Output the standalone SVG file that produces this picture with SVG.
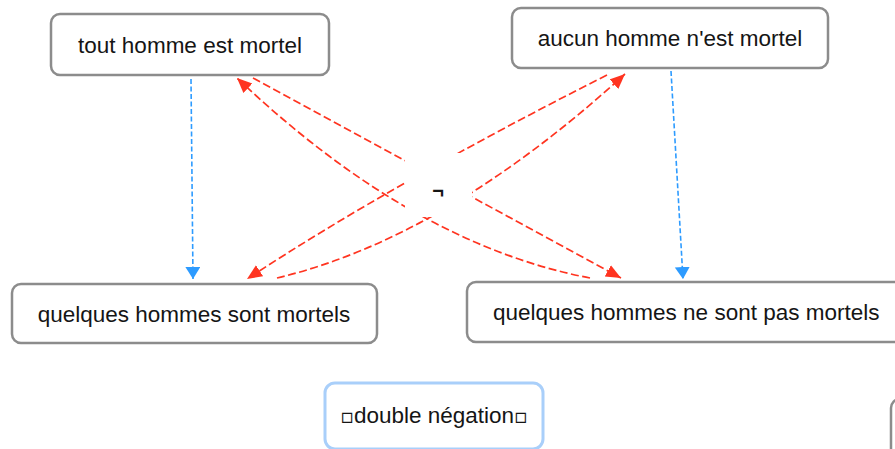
<svg xmlns="http://www.w3.org/2000/svg" width="895" height="449" viewBox="0 0 895 449">
<style>
.box{fill:#fff;stroke:#8c8c8c;stroke-width:2.5}
.sel{fill:#fff;stroke:#a9cffa;stroke-width:3}
.t{font-family:"Liberation Sans",Arial,sans-serif;font-size:22.5px;fill:#151515}
.red{fill:none;stroke:#ff3420;stroke-width:1.7;stroke-dasharray:8 3.5}
.blue{fill:none;stroke:#2d9bff;stroke-width:1.6;stroke-dasharray:5 2.5}
.lbl{font-family:"Liberation Sans",Arial,sans-serif;font-size:20px;font-weight:bold;fill:#151515}
</style>
<defs>
<marker id="ar" markerUnits="userSpaceOnUse" markerWidth="16" markerHeight="14" refX="15" refY="6.5" orient="auto"><path d="M0,0 L15,6.5 L0,13 z" fill="#ff3420"/></marker>
<marker id="ab" markerUnits="userSpaceOnUse" markerWidth="13" markerHeight="16" refX="12" refY="7.5" orient="auto"><path d="M0,0 L12,7.5 L0,15 z" fill="#2d9bff"/></marker>
</defs>
<g id="connectors">
<path class="blue" d="M191,79 L193,279" marker-end="url(#ab)"/>
<path class="blue" d="M671,71 L683,279" marker-end="url(#ab)"/>
<path class="red" d="M253,78 L621,278" marker-end="url(#ar)"/>
<path class="red" d="M590,278 Q412,244 237,78" marker-end="url(#ar)"/>
<path class="red" d="M607,75 Q395,182 247,279" marker-end="url(#ar)"/>
<path class="red" d="M277,278 Q445,238 625,74" marker-end="url(#ar)"/>
<g id="label-neg">
<rect x="405" y="153" width="67" height="64" fill="#fff"/>
<text class="lbl" x="438" y="198" text-anchor="middle">¬</text>
</g>
</g>
<g id="n1">
<rect class="box" x="51" y="14" width="278" height="61" rx="9"/>
<text class="t" x="190" y="53" text-anchor="middle">tout homme est mortel</text>
</g>
<g id="n2">
<rect class="box" x="512" y="8" width="316" height="60" rx="9"/>
<text class="t" x="670" y="46" text-anchor="middle">aucun homme n'est mortel</text>
</g>
<g id="n3">
<rect class="box" x="12" y="284" width="365" height="59" rx="9"/>
<text class="t" x="194" y="322" text-anchor="middle">quelques hommes sont mortels</text>
</g>
<g id="n4">
<rect class="box" x="467" y="282" width="450" height="60" rx="9"/>
<text class="t" x="493" y="320">quelques hommes ne sont pas mortels</text>
</g>
<g id="n5">
<rect class="sel" x="325" y="383" width="218" height="66" rx="10"/>
<text class="t" x="434" y="423" text-anchor="middle"><tspan font-family="DejaVu Sans" font-size="20">▫</tspan>double négation<tspan font-family="DejaVu Sans" font-size="20">▫</tspan></text>
</g>
<g id="n6">
<rect class="box" x="891" y="399" width="40" height="70" rx="9"/>
</g>
</svg>
